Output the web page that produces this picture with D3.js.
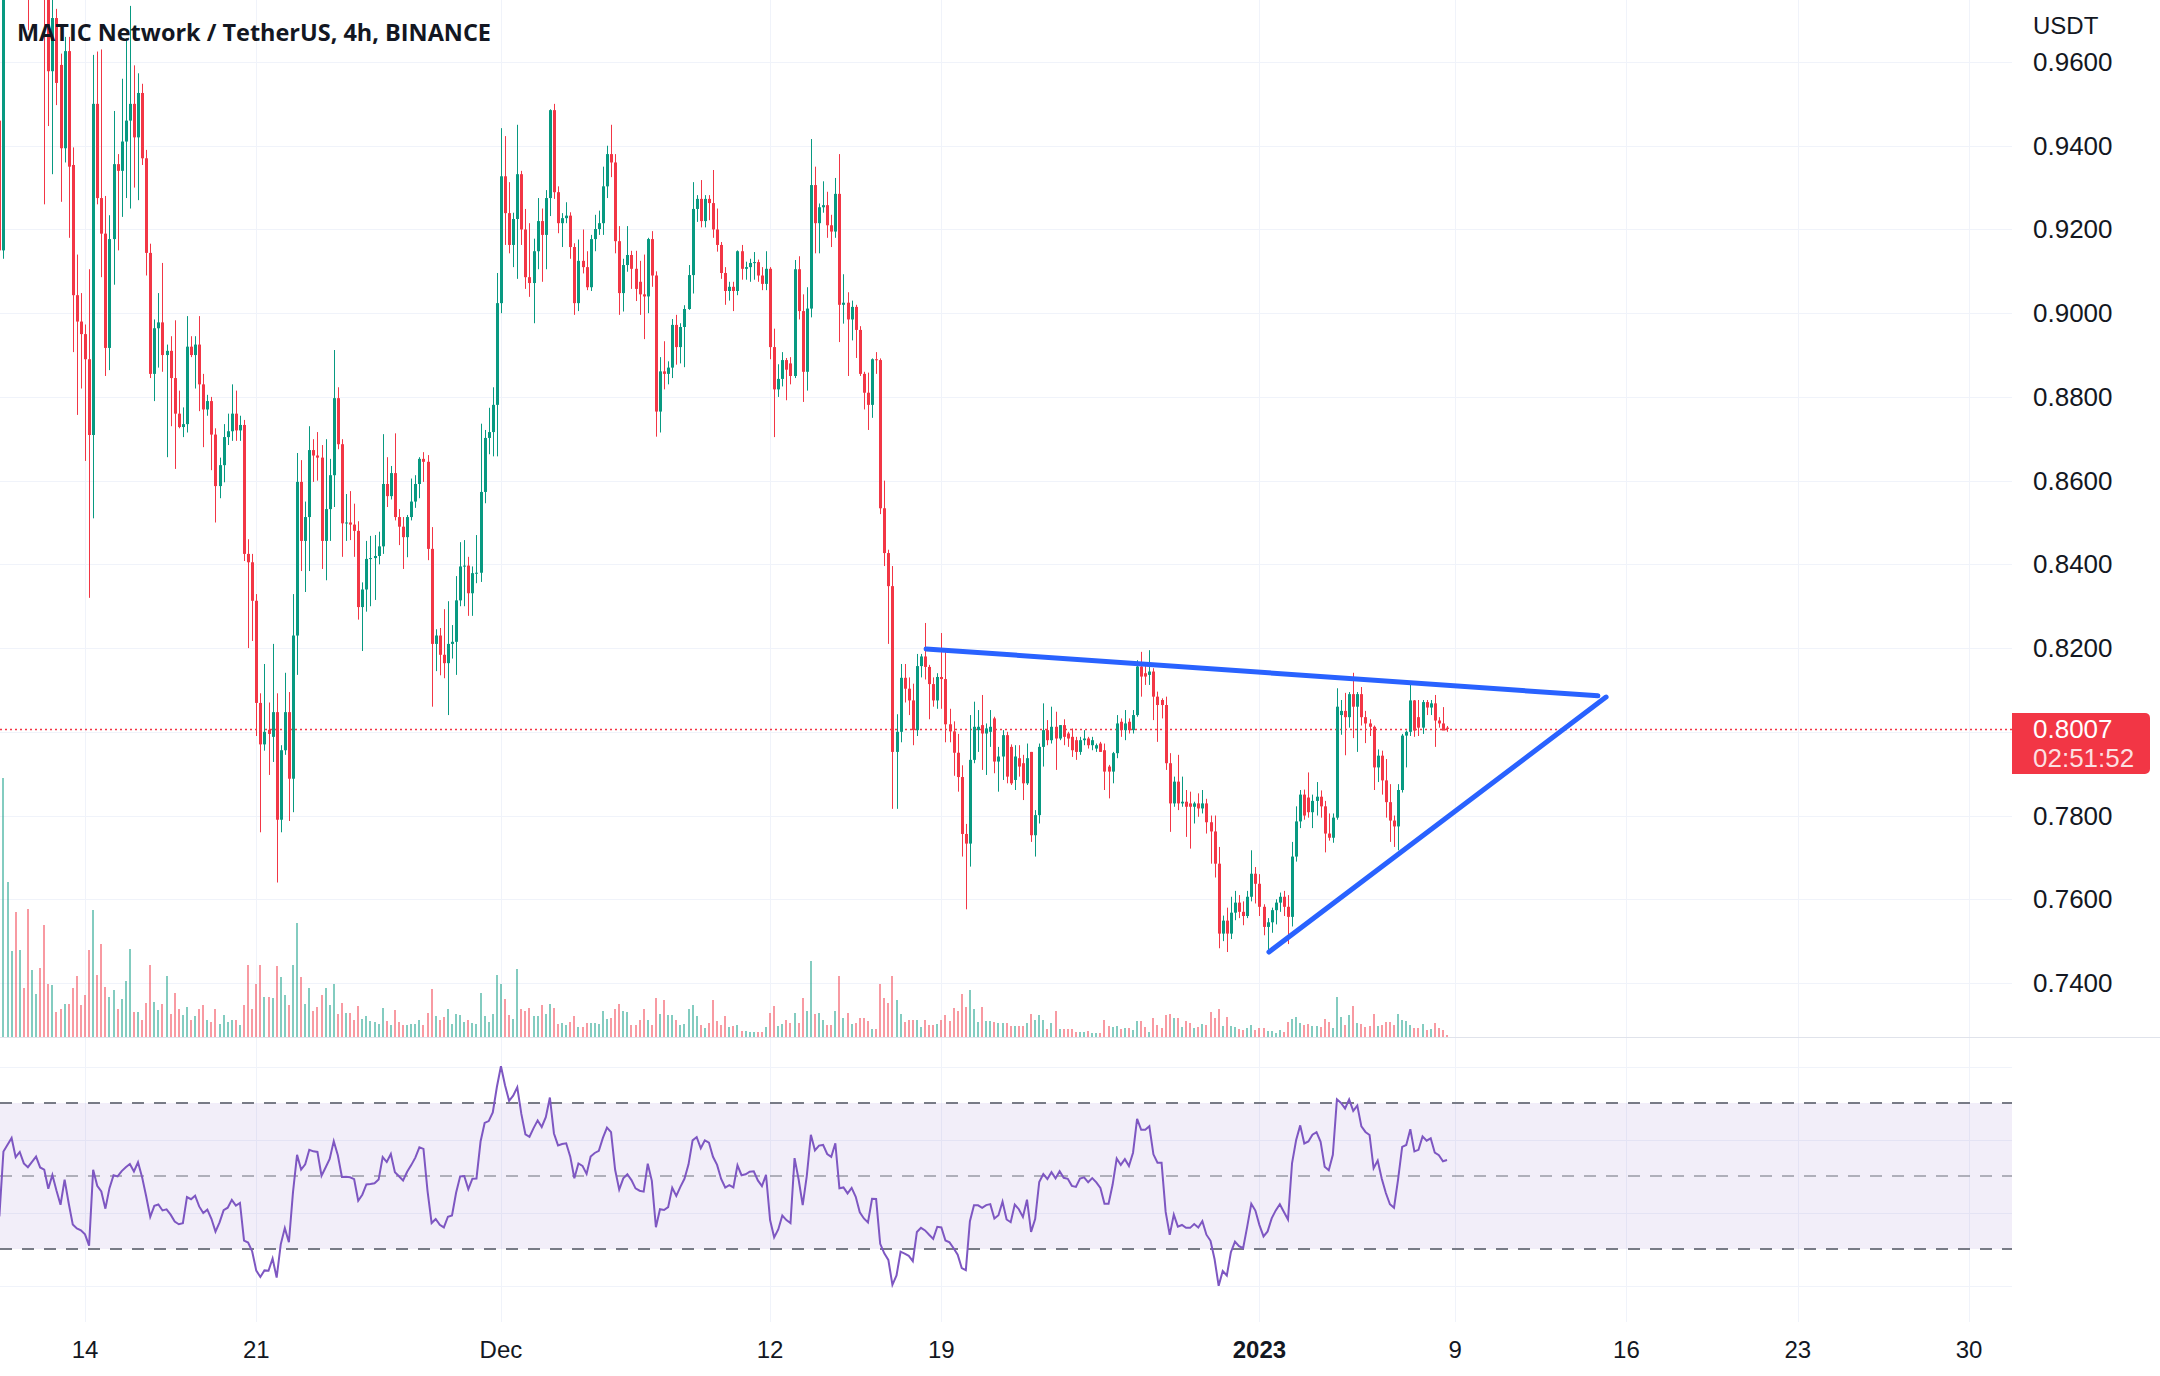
<!DOCTYPE html>
<html><head><meta charset="utf-8">
<script src="https://cdn.jsdelivr.net/npm/d3@7"></script>
<style>html,body{margin:0;padding:0;background:#fff;overflow:hidden}svg{display:block}</style>
</head><body>
<svg id="chart" width="2160" height="1376"></svg>
<script>
const chartTitle = "MATIC Network / TetherUS, 4h, BINANCE";
const currencyLabel = "USDT";
const firstBarTime = "2022-11-10T12:00:00Z";
const barHours = 4;

const opens = [
.9460,.9150,.9850,.9950,1.0050,.9850,.9920,.9800,.9760,.9820,
.9880,.9780,.9760,.9578,.9705,.9593,.9394,.9626,.9354,.9043,
.8980,.8950,.8890,.8709,.9500,.9275,.9190,.8917,.9177,.9356,
.9340,.9410,.9460,.9500,.9420,.9526,.9370,.9144,.8855,.8964,
.8978,.8900,.8910,.8845,.8760,.8728,.8735,.8920,.8900,.8925,
.8830,.8770,.8790,.8710,.8587,.8637,.8704,.8718,.8760,.8720,
.8733,.8425,.8405,.8313,.8069,.7970,.8005,.7988,.8047,.7790,
.7956,.8047,.7888,.8230,.8597,.8456,.8513,.8673,.8660,.8655,
.8456,.8532,.8613,.8797,.8687,.8498,.8500,.8495,.8480,.8298,
.8340,.8413,.8415,.8420,.8443,.8592,.8563,.8618,.8513,.8490,
.8465,.8513,.8550,.8592,.8652,.8645,.8437,.8210,.8230,.8184,
.8164,.8210,.8215,.8314,.8395,.8397,.8331,.8379,.8380,.8573,
.8702,.8716,.8781,.9024,.9327,.9239,.9163,.9225,.9332,.9200,
.9086,.9072,.9148,.9220,.9187,.9275,.9485,.9289,.9215,.9227,
.9233,.9158,.9024,.9125,.9110,.9062,.9177,.9201,.9215,.9303,
.9380,.9360,.9172,.9048,.9115,.9139,.9106,.9075,.9045,.9040,
.9177,.9090,.8765,.8861,.8855,.8870,.8972,.8919,.8967,.9010,
.9091,.9249,.9273,.9220,.9273,.9263,.9200,.9163,.9096,.9053,
.9063,.9053,.9148,.9106,.9110,.9120,.9122,.9090,.9070,.9106,
.8919,.8818,.8843,.8888,.8880,.8850,.9105,.9005,.8860,.9011,
.9306,.9215,.9253,.9258,.9210,.9195,.9285,.9020,.9025,.8985,
.9015,.8960,.8855,.8810,.8781,.8890,.8888,.8534,.8427,.8348,
.7952,.8000,.8129,.8103,.8075,.8004,.8157,.8180,.8155,.8114,
.8075,.8131,.8126,.8018,.8001,.7950,.7892,.7756,.7733,.7933,
.8004,.8016,.7996,.8000,.8032,.7929,.7941,.7992,.7964,.7885,
.7937,.7925,.7877,.7952,.7753,.7801,.7964,.8004,.7980,.8012,
.7984,.8016,.7996,.7988,.7980,.7952,.7980,.7984,.7968,.7960,
.7972,.7956,.7917,.7905,.7949,.8024,.8004,.8024,.8004,.8040,
.8156,.8140,.8136,.8144,.8084,.8076,.8064,.7925,.7829,.7881,
.7829,.7833,.7829,.7821,.7829,.7817,.7829,.7784,.7762,.7685,
.7518,.7549,.7518,.7568,.7592,.7570,.7560,.7606,.7661,.7637,
.7582,.7534,.7545,.7574,.7592,.7606,.7582,.7558,.7702,.7786,
.7850,.7843,.7808,.7835,.7845,.7822,.7757,.7747,.7795,.8040,
.8050,.8035,.8090,.8060,.8090,.8035,.8020,.8012,.7915,.7943,
.7884,.7832,.7788,.7774,.7861,.7991,.8000,.8075,.8035,.8010,
.8071,.8058,.8068,.8027,.8020,.8010];

const highs = [
.9475,.9950,1.0000,1.0120,1.0100,.9960,.9950,.9850,.9860,.9920,
.9900,.9820,.9780,.9750,.9727,.9620,.9660,.9660,.9396,.9140,
.9048,.8973,.9105,.9617,.9625,.9630,.9280,.9234,.9483,.9380,
.9560,.9657,.9734,.9592,.9573,.9548,.9390,.9166,.8985,.9048,
.9120,.8925,.8945,.8983,.8815,.8775,.8993,.8945,.8945,.8993,
.8855,.8805,.8800,.8725,.8655,.8735,.8760,.8830,.8815,.8755,
.8745,.8460,.8425,.8329,.8092,.8162,.8070,.8210,.8092,.7968,
.8141,.8095,.8329,.8666,.8649,.8550,.8730,.8699,.8716,.8685,
.8699,.8652,.8912,.8823,.8699,.8568,.8575,.8545,.8503,.8357,
.8456,.8468,.8470,.8478,.8711,.8656,.8635,.8713,.8532,.8513,
.8518,.8605,.8613,.8656,.8668,.8661,.8489,.8245,.8248,.8293,
.8312,.8255,.8372,.8453,.8458,.8418,.8395,.8470,.8736,.8721,
.8774,.8823,.9096,.9442,.9423,.9313,.9240,.9450,.9340,.9249,
.9215,.9178,.9275,.9250,.9294,.9487,.9500,.9303,.9239,.9265,
.9241,.9167,.9176,.9200,.9148,.9187,.9235,.9245,.9350,.9400,
.9450,.9380,.9208,.9130,.9208,.9149,.9149,.9125,.9140,.9180,
.9196,.9100,.8895,.8933,.8885,.8986,.8996,.8976,.9019,.9115,
.9313,.9282,.9318,.9282,.9282,.9342,.9250,.9170,.9110,.9075,
.9075,.9150,.9163,.9123,.9130,.9146,.9128,.9110,.9148,.9110,
.8963,.8878,.8907,.8893,.8895,.9127,.9136,.9045,.9062,.9416,
.9350,.9262,.9315,.9290,.9235,.9323,.9380,.9093,.9050,.9030,
.9020,.8969,.8860,.8858,.8892,.8907,.8892,.8600,.8435,.8396,
.8042,.8162,.8162,.8130,.8115,.8186,.8186,.8260,.8160,.8130,
.8140,.8236,.8190,.8055,.8025,.7995,.7920,.7780,.8040,.8072,
.8052,.8088,.8020,.8052,.8036,.7964,.8004,.8000,.7970,.7968,
.7968,.7945,.7972,.7952,.7813,.7972,.8068,.8028,.8060,.8048,
.8016,.8030,.8000,.8008,.7988,.7988,.8004,.7988,.7988,.7972,
.7976,.7972,.7921,.7952,.8040,.8032,.8052,.8032,.8052,.8171,
.8191,.8163,.8195,.8152,.8096,.8080,.8084,.7949,.7893,.7945,
.7893,.7861,.7857,.7833,.7853,.7861,.7840,.7800,.7800,.7725,
.7561,.7580,.7606,.7620,.7610,.7595,.7620,.7717,.7677,.7660,
.7588,.7555,.7580,.7600,.7616,.7620,.7610,.7737,.7822,.7861,
.7862,.7903,.7850,.7880,.7860,.7835,.7805,.7805,.8104,.8076,
.8093,.8095,.8141,.8095,.8107,.8050,.8030,.8015,.7958,.7955,
.7935,.7875,.7800,.7875,.7995,.8003,.8114,.8076,.8076,.8076,
.8076,.8076,.8088,.8035,.8059,.8014];

const lows = [
.8982,.9130,.9800,.9900,.9820,.9800,.9770,.9676,.9752,.9790,
.9756,.9260,.9447,.9332,.9497,.9266,.9360,.9180,.8907,.8757,
.8820,.8647,.8320,.8510,.9260,.9086,.8850,.8864,.9068,.9150,
.9230,.9275,.9250,.9300,.9270,.9354,.9090,.8845,.8790,.8870,
.8860,.8656,.8730,.8628,.8725,.8704,.8715,.8895,.8820,.8766,
.8680,.8755,.8625,.8500,.8558,.8596,.8685,.8695,.8695,.8695,
.8408,.8200,.8217,.7990,.7760,.7955,.7897,.7928,.7640,.7760,
.7945,.7787,.7808,.8136,.8384,.8334,.8384,.8597,.8600,.8389,
.8362,.8456,.8537,.8675,.8418,.8456,.8458,.8418,.8268,.8193,
.8287,.8300,.8315,.8400,.8425,.8537,.8555,.8505,.8446,.8389,
.8417,.8505,.8535,.8558,.8597,.8410,.8060,.8145,.8135,.8128,
.8040,.8175,.8136,.8300,.8300,.8277,.8277,.8355,.8358,.8546,
.8663,.8658,.8658,.9000,.9163,.9143,.9110,.9082,.9163,.9058,
.9039,.8976,.9105,.9075,.9105,.9232,.9273,.9191,.9158,.9215,
.9130,.8996,.9005,.9095,.9055,.9053,.9148,.9187,.9187,.9275,
.9325,.9143,.8996,.9004,.9099,.9058,.9029,.8996,.8938,.9000,
.9063,.8705,.8715,.8818,.8830,.8845,.8877,.8880,.8871,.9008,
.9047,.9218,.9205,.9205,.9222,.9180,.9147,.9082,.9020,.9030,
.9005,.9043,.9080,.9080,.9075,.9080,.9075,.9055,.9055,.8890,
.8704,.8800,.8825,.8792,.8830,.8845,.8985,.8788,.8815,.8990,
.9143,.9143,.9240,.9180,.9158,.9180,.8931,.8975,.8850,.8935,
.8893,.8850,.8770,.8721,.8750,.8855,.8520,.8396,.8210,.7816,
.7816,.7975,.8070,.8040,.7968,.7990,.8130,.8125,.8030,.8060,
.8055,.8055,.7975,.7975,.7895,.7857,.7702,.7576,.7678,.7925,
.7952,.7909,.7897,.7964,.7901,.7857,.7885,.7877,.7873,.7861,
.7893,.7837,.7873,.7737,.7702,.7781,.7917,.7968,.7972,.7909,
.7980,.7968,.7964,.7940,.7933,.7945,.7968,.7960,.7956,.7952,
.7952,.7861,.7841,.7877,.7937,.7988,.7980,.7996,.7996,.8036,
.8084,.8112,.8112,.8028,.7976,.8032,.7909,.7761,.7821,.7813,
.7821,.7749,.7721,.7781,.7797,.7805,.7757,.7685,.7652,.7483,
.7500,.7474,.7505,.7550,.7555,.7538,.7555,.7595,.7590,.7560,
.7514,.7474,.7520,.7540,.7570,.7560,.7493,.7535,.7690,.7770,
.7790,.7795,.7770,.7800,.7795,.7712,.7740,.7735,.7790,.7993,
.7944,.8010,.7985,.7952,.8015,.7973,.7990,.7861,.7880,.7850,
.7795,.7737,.7725,.7717,.7855,.7915,.7990,.7988,.7990,.7995,
.8040,.8040,.7964,.8010,.8005,.8000];

const closes = [
.9150,.9850,.9950,1.0050,.9850,.9920,.9800,.9760,.9820,.9880,
.9780,.9760,.9578,.9705,.9550,.9394,.9626,.9350,.9043,.8980,
.8950,.8890,.8709,.9500,.9275,.9190,.8917,.9177,.9356,.9340,
.9410,.9460,.9500,.9420,.9526,.9370,.9144,.8855,.8964,.8978,
.8900,.8910,.8845,.8760,.8728,.8735,.8920,.8900,.8925,.8830,
.8770,.8790,.8710,.8587,.8637,.8704,.8718,.8760,.8720,.8733,
.8425,.8405,.8313,.8069,.7970,.8000,.7995,.8047,.7790,.7956,
.8047,.7888,.8230,.8597,.8456,.8513,.8673,.8660,.8655,.8456,
.8532,.8613,.8797,.8687,.8498,.8500,.8495,.8480,.8298,.8340,
.8413,.8415,.8420,.8443,.8592,.8563,.8618,.8513,.8490,.8465,
.8513,.8550,.8592,.8652,.8645,.8437,.8210,.8230,.8184,.8164,
.8210,.8215,.8314,.8395,.8397,.8331,.8379,.8380,.8573,.8702,
.8716,.8781,.9024,.9327,.9239,.9163,.9225,.9332,.9200,.9086,
.9072,.9148,.9220,.9187,.9275,.9485,.9289,.9215,.9227,.9233,
.9158,.9024,.9125,.9110,.9062,.9177,.9201,.9215,.9303,.9380,
.9360,.9172,.9048,.9115,.9139,.9106,.9058,.9045,.9040,.9177,
.9090,.8765,.8861,.8855,.8870,.8972,.8919,.8967,.9010,.9091,
.9249,.9273,.9220,.9273,.9263,.9200,.9163,.9096,.9053,.9063,
.9053,.9148,.9106,.9110,.9120,.9122,.9090,.9070,.9106,.8919,
.8818,.8843,.8888,.8865,.8850,.9105,.9005,.8860,.9011,.9306,
.9215,.9253,.9258,.9210,.9195,.9285,.9020,.9025,.8985,.9015,
.8960,.8855,.8810,.8781,.8890,.8888,.8534,.8427,.8348,.7952,
.8000,.8129,.8103,.8075,.8004,.8157,.8180,.8155,.8114,.8075,
.8131,.8126,.8018,.8001,.7950,.7892,.7756,.7733,.7933,.8012,
.8012,.7996,.8008,.8012,.7929,.7941,.7992,.7893,.7877,.7941,
.7917,.7877,.7937,.7753,.7801,.7964,.8004,.7980,.8012,.7984,
.8016,.7988,.7984,.7956,.7952,.7980,.7984,.7968,.7980,.7968,
.7952,.7905,.7905,.7949,.8020,.8004,.8020,.8004,.8040,.8156,
.8132,.8132,.8144,.8084,.8064,.8064,.7925,.7829,.7881,.7829,
.7833,.7821,.7821,.7829,.7817,.7829,.7784,.7762,.7685,.7518,
.7549,.7518,.7568,.7592,.7570,.7560,.7606,.7661,.7637,.7582,
.7534,.7545,.7574,.7592,.7606,.7582,.7558,.7702,.7786,.7850,
.7800,.7808,.7835,.7845,.7822,.7757,.7747,.7795,.8060,.8050,
.8035,.8090,.8060,.8090,.8035,.8020,.8012,.7915,.7943,.7884,
.7832,.7788,.7774,.7861,.7991,.8000,.8075,.8003,.8010,.8071,
.8058,.8068,.8027,.8020,.8003,.8007];

// volume in millions
const volumes = [
10.0,25.9,15.5,8.6,12.5,8.7,4.9,12.8,6.7,4.3,
6.9,11.2,5.3,5.2,2.5,2.8,3.3,3.3,4.9,6.1,
3.2,4.2,8.7,12.7,6.2,9.3,5.0,4.0,4.7,2.8,
3.8,5.6,8.8,2.5,2.5,1.7,3.4,7.2,3.5,2.7,
3.3,6.1,2.3,4.4,2.8,2.2,3.0,1.7,2.1,2.8,
3.2,1.7,1.5,2.8,1.3,2.2,1.5,1.7,1.7,1.2,
3.2,7.2,2.8,5.3,7.2,4.0,4.0,3.9,7.1,6.0,
4.2,3.2,7.2,11.4,6.0,3.3,4.9,2.6,3.0,4.2,
4.9,3.2,5.3,2.3,3.4,2.4,2.4,1.7,3.1,1.8,
2.1,1.6,1.5,1.3,2.9,1.6,1.2,2.7,1.5,1.2,
1.2,1.3,1.3,1.7,1.2,2.4,4.8,2.1,1.7,2.0,
2.8,1.3,2.3,2.2,1.5,1.7,1.4,1.3,4.4,2.1,
1.5,2.3,6.2,5.3,3.8,2.2,1.8,6.8,2.8,2.6,
2.9,2.1,2.1,3.2,2.3,3.3,2.9,1.3,1.4,1.2,
1.5,2.1,1.0,1.0,1.4,1.4,1.4,1.3,2.6,1.8,
1.9,2.8,3.3,2.6,2.5,1.2,1.2,1.7,2.8,1.7,
1.2,3.9,2.3,3.7,2.2,2.2,1.7,1.2,1.3,2.8,
3.2,2.1,1.2,0.9,1.4,3.7,1.6,1.2,2.1,
1.0,1.1,1.2,0.6,0.6,0.5,0.5,0.5,0.5,1.0,
2.4,3.1,1.1,1.3,1.7,1.4,2.4,1.4,3.9,2.6,
7.6,2.3,2.4,1.7,1.2,1.2,2.6,6.1,1.9,2.4,
1.3,1.4,1.9,1.9,1.6,0.8,0.8,5.3,3.9,3.4,
6.1,3.7,2.3,1.5,1.7,1.7,1.7,1.0,1.7,1.2,
1.2,1.3,1.7,2.2,1.6,2.9,2.6,4.3,3.0,4.7,
2.8,1.5,3.0,1.6,1.6,1.5,1.4,1.4,1.4,1.1,
1.1,1.1,1.1,1.4,2.3,1.7,2.2,1.7,0.8,1.4,
2.6,0.8,0.8,0.8,0.8,0.5,0.5,0.5,0.6,0.4,
0.4,0.4,1.7,1.1,1.0,1.1,0.8,0.9,0.9,0.7,
1.6,1.6,1.0,0.5,1.9,1.2,0.9,2.2,2.3,1.9,
1.9,1.0,1.6,1.4,0.9,1.0,1.3,1.2,2.5,1.9,
2.8,1.1,2.0,1.1,1.0,0.8,0.7,0.9,1.2,0.7,
0.9,0.9,0.6,0.6,0.4,0.7,0.5,1.5,1.8,2.0,
1.4,1.2,1.3,1.1,1.1,1.0,1.8,1.5,0.9,4.0,
2.0,1.2,2.2,3.1,1.4,1.3,1.0,1.1,2.3,1.1,
1.2,1.5,1.5,1.2,2.3,1.7,1.6,1.2,0.9,0.9,
1.3,0.7,0.8,1.4,0.9,0.7,0.2];

const priceTicks = [0.74,0.76,0.78,0.80,0.82,0.84,0.86,0.88,0.90,0.92,0.94,0.96];
const dateTicks = ["2022-11-14","2022-11-21","2022-12-01","2022-12-12","2022-12-19","2023-01-01","2023-01-09","2023-01-16","2023-01-23","2023-01-30"];
const dateLabels = ["14","21","Dec","12","19","2023","9","16","23","30"];
const boldDateLabels = ["2023"];
const lastPrice = 0.8007;
const countdown = "02:51:52";
const upperTrend = [{t:"2022-12-18T09:00:00Z", p:0.8198},{t:"2023-01-14T20:00:00Z", p:0.8086}];
const lowerTrend = [{t:"2023-01-01T09:20:00Z", p:0.7474},{t:"2023-01-15T04:00:00Z", p:0.8083}];
const rsiLevels = [70, 50, 30];
const rsiGrid = [80, 60, 40, 20];
const rsiLength = 14;
// RSI(14) smoothing state carried in from the bars before the first visible bar
const rsiStartAvgGain = 0.0051;
const rsiStartAvgLoss = 0.0080;

// ---------- drawing ----------
const W = 2160, H = 1376;
const plotRight = 2012, mainBottom = 1037, rsiTop = 1038, rsiBottom = 1322;
const UP = "#089981", DOWN = "#f23645";
const svg = d3.select("#chart");
const t0 = new Date(firstBarTime).getTime();
const bars = closes.map((c, i) => ({
  t: new Date(t0 + i * barHours * 3600e3),
  o: opens[i], h: highs[i], l: lows[i], c: c, v: volumes[i]
}));

const x = d3.scaleUtc()
  .domain([new Date("2022-11-14T00:00:00Z"), new Date("2023-01-30T00:00:00Z")])
  .range([85, 1969]);
const y = d3.scaleLinear().domain([0.74, 0.96]).range([983, 62]);
const yVol = d3.scaleLinear().domain([0, 26]).range([mainBottom, mainBottom - 260]);
const yRsi = d3.scaleLinear().domain([30, 70]).range([1249, 1103]);

svg.append("rect").attr("width", W).attr("height", H).attr("fill", "#ffffff");

const defs = svg.append("defs");
defs.append("clipPath").attr("id", "clipMain").append("rect")
  .attr("x", 0).attr("y", 0).attr("width", plotRight).attr("height", mainBottom);
defs.append("clipPath").attr("id", "clipRsi").append("rect")
  .attr("x", 0).attr("y", rsiTop).attr("width", plotRight).attr("height", rsiBottom - rsiTop);

const grid = "#f0f3fa";
svg.append("g").selectAll("line").data(priceTicks).join("line")
  .attr("x1", 0).attr("x2", plotRight)
  .attr("y1", d => Math.round(y(d)) + 0.5).attr("y2", d => Math.round(y(d)) + 0.5)
  .attr("stroke", grid).attr("stroke-width", 1);
const tickDates = dateTicks.map(d => new Date(d + "T00:00:00Z"));
svg.append("g").selectAll("line").data(tickDates).join("line")
  .attr("x1", d => Math.round(x(d)) + 0.5).attr("x2", d => Math.round(x(d)) + 0.5)
  .attr("y1", 0).attr("y2", mainBottom)
  .attr("stroke", grid).attr("stroke-width", 1);
svg.append("g").selectAll("line").data(tickDates).join("line")
  .attr("x1", d => Math.round(x(d)) + 0.5).attr("x2", d => Math.round(x(d)) + 0.5)
  .attr("y1", rsiTop).attr("y2", rsiBottom)
  .attr("stroke", grid).attr("stroke-width", 1);
svg.append("g").selectAll("line").data(rsiGrid).join("line")
  .attr("x1", 0).attr("x2", plotRight)
  .attr("y1", d => Math.round(yRsi(d)) + 0.5).attr("y2", d => Math.round(yRsi(d)) + 0.5)
  .attr("stroke", grid).attr("stroke-width", 1);

svg.append("line").attr("x1", 0).attr("x2", W).attr("y1", rsiTop - 0.5).attr("y2", rsiTop - 0.5)
  .attr("stroke", "#e0e3eb").attr("stroke-width", 1);

const main = svg.append("g").attr("clip-path", "url(#clipMain)");
const bx = d => Math.round(x(d.t));

main.append("g").selectAll("rect").data(bars).join("rect")
  .attr("x", d => bx(d) - 1).attr("width", 2)
  .attr("y", d => yVol(d.v)).attr("height", d => mainBottom - yVol(d.v))
  .attr("fill", d => d.c >= d.o ? "rgba(8,153,129,0.5)" : "rgba(242,54,69,0.5)");

main.append("line").attr("x1", 0).attr("x2", plotRight)
  .attr("y1", Math.round(y(lastPrice)) + 0.5).attr("y2", Math.round(y(lastPrice)) + 0.5)
  .attr("stroke", DOWN).attr("stroke-width", 1.4).attr("stroke-dasharray", "2,3");

const cg = main.append("g");
cg.selectAll("line").data(bars).join("line")
  .attr("x1", d => bx(d) + 0.5).attr("x2", d => bx(d) + 0.5)
  .attr("y1", d => y(d.h)).attr("y2", d => y(d.l))
  .attr("stroke", d => d.c >= d.o ? UP : DOWN).attr("stroke-width", 1);
cg.selectAll("rect").data(bars).join("rect")
  .attr("x", d => bx(d) - 1).attr("width", 3)
  .attr("y", d => y(Math.max(d.o, d.c)))
  .attr("height", d => Math.max(1, Math.abs(y(d.o) - y(d.c))))
  .attr("fill", d => d.c >= d.o ? UP : DOWN);

const trendLine = d3.line().x(d => x(new Date(d.t))).y(d => y(d.p));
[upperTrend, lowerTrend].forEach(tr => {
  main.append("path").attr("d", trendLine(tr)).attr("fill", "none")
    .attr("stroke", "#2962ff").attr("stroke-width", 5).attr("stroke-linecap", "round");
});

svg.append("text").attr("x", 17).attr("y", 41)
  .attr("font-family", "'Open Sans', 'Noto Sans', sans-serif").attr("font-weight", 700)
  .attr("font-size", 24).attr("fill", "#131722")
  .attr("textLength", 474).attr("lengthAdjust", "spacingAndGlyphs")
  .text(chartTitle);

const axisFont = "'Liberation Sans', Arial, sans-serif";
svg.append("text").attr("x", 2033).attr("y", 34).attr("font-family", axisFont)
  .attr("font-size", 24).attr("fill", "#131722").text(currencyLabel);
svg.append("g").selectAll("text").data(priceTicks).join("text")
  .attr("x", 2033).attr("y", d => y(d) + 9)
  .attr("font-family", axisFont).attr("font-size", 26).attr("fill", "#131722")
  .text(d => d3.format(".4f")(d));

const lpY = y(lastPrice);
svg.append("path")
  .attr("d", `M2012,${lpY - 16} h133 a5,5 0 0 1 5,5 v51 a5,5 0 0 1 -5,5 h-133 z`)
  .attr("fill", DOWN);
svg.append("text").attr("x", 2033).attr("y", lpY + 9).attr("font-family", axisFont)
  .attr("font-size", 26).attr("fill", "#ffffff").text(d3.format(".4f")(lastPrice));
svg.append("text").attr("x", 2033).attr("y", lpY + 38).attr("font-family", axisFont)
  .attr("font-size", 26).attr("fill", "rgba(255,255,255,0.85)").text(countdown);

const rsiG = svg.append("g").attr("clip-path", "url(#clipRsi)");
rsiG.append("rect").attr("x", 0).attr("width", plotRight)
  .attr("y", yRsi(70)).attr("height", yRsi(30) - yRsi(70))
  .attr("fill", "rgba(126,87,194,0.1)");
rsiG.selectAll("line.lvl").data(rsiLevels).join("line")
  .attr("x1", 0).attr("x2", plotRight)
  .attr("y1", d => yRsi(d)).attr("y2", d => yRsi(d))
  .attr("stroke", d => d === 50 ? "rgba(120,123,134,0.55)" : "#787b86")
  .attr("stroke-width", 2).attr("stroke-dasharray", "12,10");

// RSI(14), Wilder smoothing of the close-to-close changes
const rsi = [];
let ag = rsiStartAvgGain, al = rsiStartAvgLoss;
rsi.push({ t: bars[0].t, v: 100 - 100 / (1 + ag / al) });
for (let i = 1; i < closes.length; i++) {
  const ch = closes[i] - closes[i - 1];
  ag = (ag * (rsiLength - 1) + Math.max(ch, 0)) / rsiLength;
  al = (al * (rsiLength - 1) + Math.max(-ch, 0)) / rsiLength;
  rsi.push({ t: bars[i].t, v: al === 0 ? 100 : 100 - 100 / (1 + ag / al) });
}
rsiG.append("path").datum(rsi)
  .attr("d", d3.line().x(d => x(d.t)).y(d => yRsi(d.v)))
  .attr("fill", "none").attr("stroke", "#7e57c2").attr("stroke-width", 2);

svg.append("g").selectAll("text").data(tickDates).join("text")
  .attr("x", d => x(d)).attr("y", 1358).attr("text-anchor", "middle")
  .attr("font-family", axisFont).attr("font-size", 24).attr("fill", "#131722")
  .attr("font-weight", (d, i) => boldDateLabels.includes(dateLabels[i]) ? 700 : 400)
  .text((d, i) => dateLabels[i]);
</script>
</body></html>
